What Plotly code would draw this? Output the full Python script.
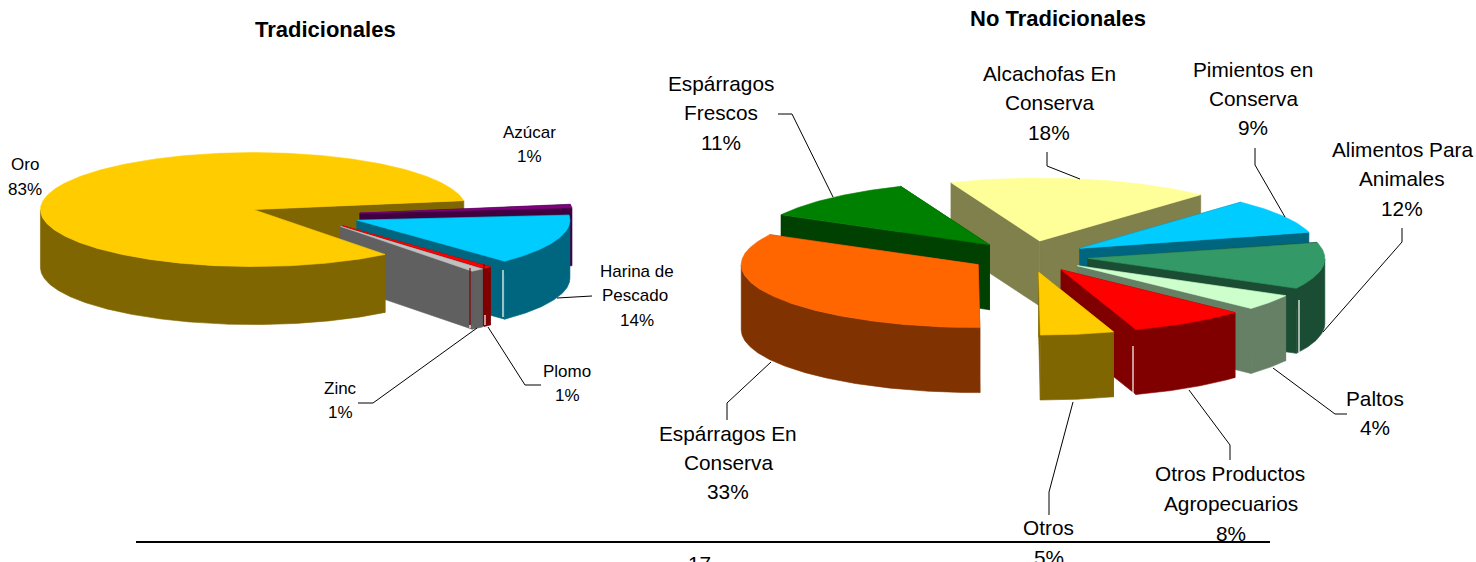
import numpy as np
import plotly.graph_objects as go

# ---- data ----
trad_labels = ["Azúcar", "Harina de Pescado", "Plomo", "Zinc", "Oro"]
trad_values = [1.0, 14.3, 0.6, 1.0, 83.1]
notrad_labels = ["Alcachofas En Conserva", "Pimientos en Conserva", "Alimentos Para Animales",
                 "Paltos", "Otros Productos Agropecuarios", "Otros",
                 "Espárragos En Conserva", "Espárragos Frescos"]
notrad_values = [18, 9, 12, 4, 8, 5, 33, 11]

# ---- styles ----
trad_top = ["#800080", "#00CCFF", "#FF0000", "#C0C0C0", "#FFCC00"]
trad_side = ["#400040", "#006680", "#800000", "#606060", "#806600"]
notrad_top = ["#FFFF99", "#00CCFF", "#339966", "#CCFFCC", "#FF0000", "#FFCC00", "#FF6600", "#008000"]
notrad_side = ["#80804D", "#006680", "#1A4D33", "#668066", "#800000", "#806600", "#803300", "#004000"]

TRAD = dict(cx=305, cy=215, rx=213, ry=57, depth=58, pull=0.26, start=9)
NOTRAD = dict(cx=1029, cy=256.5, rx=237, ry=63, depth=65, pull=0.25, start=112)

FONT = "Liberation Sans, Arial, sans-serif"
fig = go.Figure()


def poly(xs, ys, color):
    fig.add_trace(go.Scatter(x=list(xs), y=list(ys), mode="lines", fill="toself", fillcolor=color,
                             line=dict(color=color, width=0.6), hoverinfo="skip", showlegend=False))


def draw_walls(s):
    ax, ay, ex, ey, depth, side = s["ax"], s["ay"], s["ex"], s["ey"], s["depth"], s["side"]
    for i in (0, -1):
        poly([ax, ex[i], ex[i], ax, ax], [ay, ey[i], ey[i] + depth, ay + depth, ay], side)


def draw_body(s):
    ax, ay, ex, ey, depth = s["ax"], s["ay"], s["ex"], s["ey"], s["depth"]
    m = np.sin(s["th"]) <= 0
    if m.any():
        px, py = ex[m], ey[m]
        poly(np.r_[px, px[::-1], px[0]], np.r_[py, py[::-1] + depth, py[0]], s["side"])
    poly(np.r_[ax, ex, ax], np.r_[ay, ey, ay], s["top"])


def draw_pie(values, top, side, cx, cy, rx, ry, depth, pull, start):
    total = sum(values)
    a = start
    slices = []
    for v, t, c in zip(values, top, side):
        sweep = 360.0 * v / total
        a0, a1 = a, a - sweep
        a = a1
        mid = np.radians((a0 + a1) / 2)
        ax = cx + pull * rx * np.cos(mid)
        ay = cy - pull * ry * np.sin(mid)
        th = np.radians(np.linspace(a0, a1, max(4, int(sweep * 2))))
        slices.append(dict(ax=ax, ay=ay, th=th, ex=ax + rx * np.cos(th), ey=ay - ry * np.sin(th),
                           depth=depth, top=t, side=c, sweep=sweep))
    slices.sort(key=lambda r: r["ay"])
    # a slice wider than a half turn wraps round the others: its walls go behind, its body in front
    wraps = [s for s in slices if s["sweep"] > 180]
    for s in wraps:
        draw_walls(s)
    for s in slices:
        if s["sweep"] <= 180:
            draw_walls(s)
            draw_body(s)
    for s in wraps:
        draw_body(s)


draw_pie(trad_values, trad_top, trad_side, **TRAD)
draw_pie(notrad_values, notrad_top, notrad_side, **NOTRAD)

# ---- text (one entry per line: text, x, y, size) ----
LS, LL = 17, 20.8
texts = [
    ("Oro", 25, 164, LS), ("83%", 25, 189, LS),
    ("Azúcar", 529, 132, LS), ("1%", 529, 156, LS),
    ("Harina de", 637, 271, LS), ("Pescado", 635, 295, LS), ("14%", 637, 320, LS),
    ("Plomo", 567, 371, LS), ("1%", 567, 395, LS),
    ("Zinc", 340, 388, LS), ("1%", 340, 412, LS),
    ("Espárragos", 721, 83, LL), ("Frescos", 721, 112, LL), ("11%", 721, 142, LL),
    ("Alcachofas En", 1049, 73, LL), ("Conserva", 1049, 102, LL), ("18%", 1049, 132, LL),
    ("Pimientos en", 1253, 69, LL), ("Conserva", 1253, 98, LL), ("9%", 1253, 127, LL),
    ("Alimentos Para", 1402, 149, LL), ("Animales", 1402, 178, LL), ("12%", 1402, 208, LL),
    ("Paltos", 1375, 398, LL), ("4%", 1375, 427, LL),
    ("Otros Productos", 1230, 473, LL), ("Agropecuarios", 1231, 503, LL), ("8%", 1231, 533, LL),
    ("Otros", 1048, 527, LL), ("5%", 1049, 557, LL),
    ("Espárragos En", 728, 433, LL), ("Conserva", 728, 462, LL), ("33%", 728, 491, LL),
]
annotations = [dict(text=t, x=x, y=y, xref="x", yref="y", showarrow=False,
                    xanchor="center", yanchor="middle", font=dict(family=FONT, size=s, color="black"))
               for t, x, y, s in texts]
annotations.append(dict(text="17", x=699, y=550, xref="x", yref="y", showarrow=False,
                        xanchor="center", yanchor="top", font=dict(family=FONT, size=LL, color="black")))
annotations += [dict(text="<b>%s</b>" % t, x=x, y=y, xref="x", yref="y", showarrow=False,
                     xanchor="center", yanchor="middle", font=dict(family=FONT, size=22, color="black"))
                for t, x, y in [("Tradicionales", 325, 29), ("No Tradicionales", 1058, 18)]]

# ---- leader lines ----
leaders = [
    [(557, 298), (592, 296)],
    [(488, 327), (525, 385), (541, 385)],
    [(477, 328), (373, 403), (358, 403)],
    [(833, 197), (792, 114), (778, 114)],
    [(1080, 179), (1047, 166), (1047, 152)],
    [(1285, 217), (1255, 165), (1255, 148)],
    [(1323, 332), (1402, 242), (1402, 228)],
    [(1273, 368), (1335, 414), (1347, 414)],
    [(1189, 390), (1230, 445), (1230, 460)],
    [(1073, 402), (1049, 492), (1049, 515)],
    [(771, 362), (727, 403), (727, 420)],
]
shapes = []
for pts in leaders:
    for (x0, y0), (x1, y1) in zip(pts[:-1], pts[1:]):
        shapes.append(dict(type="line", xref="x", yref="y", x0=x0, y0=y0, x1=x1, y1=y1,
                           line=dict(color="black", width=1)))
shapes.append(dict(type="line", xref="x", yref="y", x0=136, y0=542, x1=1270, y1=542,
                   line=dict(color="black", width=2)))

# thin seams where the slices' faces meet
seams = [
    (503, 270, 317, "white"), (470, 268, 325, "#800000"), (484, 264, 315, "#800000"),
    (470, 325, 328, "white"), (485, 315, 325, "white"),
    (1133, 346, 394, "white"), (1299, 300, 352, "white"),
]
for x, y0, y1, c in seams:
    shapes.append(dict(type="line", xref="x", yref="y", x0=x, y0=y0, x1=x, y1=y1,
                       line=dict(color=c, width=1.2)))

fig.update_layout(
    width=1476, height=562, autosize=False, margin=dict(l=0, r=0, t=0, b=0),
    paper_bgcolor="white", plot_bgcolor="white", showlegend=False,
    xaxis=dict(range=[0, 1476], visible=False, fixedrange=True),
    yaxis=dict(range=[562, 0], visible=False, fixedrange=True),
    annotations=annotations, shapes=shapes,
)
fig.write_html("out.html", config=dict(displayModeBar=False),
               post_script="document.body.style.margin='0';document.body.style.overflow='hidden';")
